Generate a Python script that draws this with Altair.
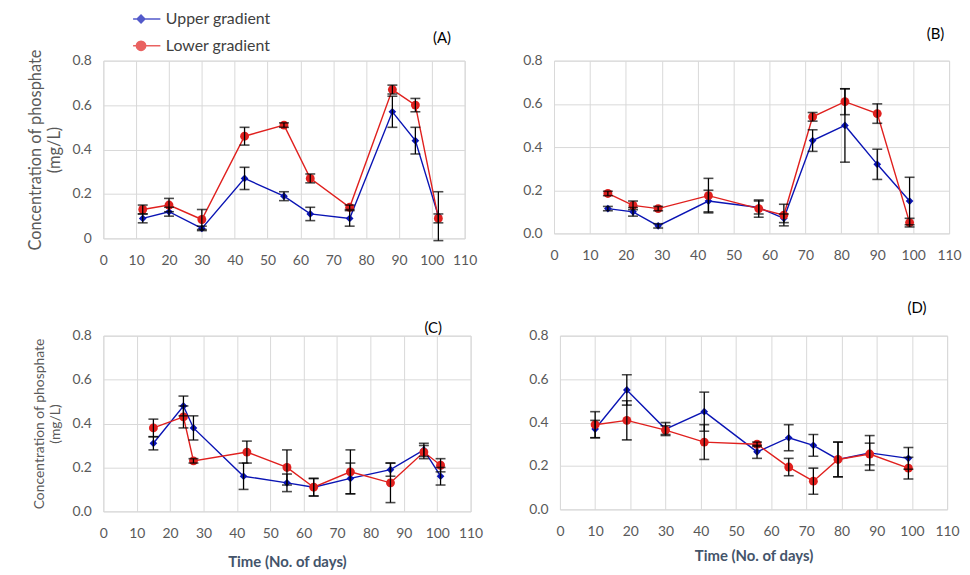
import altair as alt
import pandas as pd

SERIES = ["Upper gradient", "Lower gradient"]
COLORS = ["#0A14B4", "#E0201E"]

# Panel A
a_days_up = [12, 20, 30, 43, 55, 63, 75, 88, 95, 102]
a_upper = [0.09, 0.12, 0.045, 0.27, 0.19, 0.11, 0.09, 0.57, 0.44, 0.10]
a_upper_err = [0.02, 0.02, 0.01, 0.05, 0.02, 0.03, 0.035, 0.07, 0.06, 0.11]
a_days_lo = [12, 20, 30, 43, 55, 63, 75, 88, 95, 102]
a_lower = [0.13, 0.15, 0.085, 0.46, 0.51, 0.27, 0.14, 0.67, 0.60, 0.09]
a_lower_err = [0.02, 0.03, 0.045, 0.04, 0.01, 0.02, 0.01, 0.02, 0.03, 0.02]

# Panel B
b_days_up = [15, 22, 29, 43, 57, 64, 72, 81, 90, 99]
b_upper = [0.115, 0.10, 0.035, 0.15, 0.12, 0.07, 0.43, 0.50, 0.32, 0.15]
b_upper_err = [0.01, 0.02, 0.01, 0.05, 0.03, 0.02, 0.05, 0.17, 0.07, 0.11]
b_days_lo = [15, 22, 29, 43, 57, 64, 72, 81, 90, 99]
b_lower = [0.185, 0.13, 0.115, 0.175, 0.115, 0.085, 0.54, 0.61, 0.555, 0.05]
b_lower_err = [0.01, 0.02, 0.01, 0.08, 0.04, 0.05, 0.02, 0.06, 0.045, 0.02]

# Panel C
c_days_up = [15, 24, 27, 42, 55, 63, 74, 86, 96, 101]
c_upper = [0.31, 0.48, 0.38, 0.16, 0.13, 0.11, 0.15, 0.19, 0.28, 0.16]
c_upper_err = [0.03, 0.045, 0.055, 0.06, 0.04, 0.04, 0.07, 0.03, 0.03, 0.04]
c_days_lo = [15, 24, 27, 43, 55, 63, 74, 86, 96, 101]
c_lower = [0.38, 0.43, 0.23, 0.27, 0.20, 0.11, 0.18, 0.13, 0.27, 0.21]
c_lower_err = [0.04, 0.05, 0.01, 0.05, 0.08, 0.04, 0.10, 0.09, 0.03, 0.03]

# Panel D
d_days_up = [10, 19, 30, 41, 56, 65, 72, 79, 88, 99]
d_upper = [0.37, 0.55, 0.37, 0.45, 0.265, 0.33, 0.295, 0.23, 0.26, 0.235]
d_upper_err = [0.04, 0.07, 0.03, 0.09, 0.03, 0.06, 0.05, 0.08, 0.08, 0.05]
d_days_lo = [10, 19, 30, 41, 56, 65, 72, 79, 88, 99]
d_lower = [0.39, 0.41, 0.365, 0.31, 0.30, 0.195, 0.13, 0.23, 0.255, 0.19]
d_lower_err = [0.06, 0.09, 0.02, 0.08, 0.01, 0.04, 0.06, 0.08, 0.05, 0.05]

FONT = "Lato"
X_TICKS = list(range(0, 111, 10))
Y_TICKS = [0, 0.2, 0.4, 0.6, 0.8]
Y_TITLE = ["Concentration of phosphate", "(mg/L)"]
X_TITLE = "Time (No. of days)"


def frame(days_up, up, up_err, days_lo, lo, lo_err):
    rows = []
    for d, v, e in zip(days_up, up, up_err):
        rows.append({"day": d, "value": v, "lo": v - e, "hi": v + e, "series": SERIES[0]})
    for d, v, e in zip(days_lo, lo, lo_err):
        rows.append({"day": d, "value": v, "lo": v - e, "hi": v + e, "series": SERIES[1]})
    return pd.DataFrame(rows)


LEG = dict(title=None, orient="none", legendX=30, legendY=-51, padding=0,
           labelFontSize=16, labelColor="#404040", labelFont=FONT, symbolSize=100,
           symbolStrokeWidth=1.4, rowPadding=9, labelOffset=17, clipHeight=18)


def panel(df, label, width, height, yfmt, ytitle, ytitle_size, xtitle, title_dx, title_off, xtitle_pad=10):
    x_axis = alt.Axis(values=X_TICKS, title=xtitle, titleFontWeight="bold",
                      titleColor="#44546A", titleFontSize=15, titlePadding=xtitle_pad, labelPadding=15)
    y_axis = alt.Axis(values=Y_TICKS, format=yfmt, title=ytitle,
                      titleFontSize=ytitle_size, titleColor="#595959",
                      titleFontWeight="normal", titlePadding=10, labelPadding=12)
    x = alt.X("day:Q", scale=alt.Scale(domain=[0, 110], nice=False), axis=x_axis)
    y = alt.Y("value:Q", scale=alt.Scale(domain=[0, 0.8], nice=False), axis=y_axis)
    base = alt.Chart(df)
    layers = []
    for s, col, shape, size in [(SERIES[0], COLORS[0], "diamond", 60), (SERIES[1], COLORS[1], "circle", 80)]:
        sub = base.transform_filter(alt.datum.series == s)
        layers.append(sub.mark_line(strokeWidth=1.4, color=col).encode(x=x, y=y))
        layers.append(sub.mark_point(filled=True, shape=shape, size=size, opacity=1, color=col).encode(x=x, y=y))
    layers.append(base.mark_rule(color="black", strokeWidth=1.3).encode(
        x=x, y=alt.Y("lo:Q"), y2="hi:Q"))
    layers.append(base.mark_tick(color="black", thickness=1.6, size=10, orient="horizontal").encode(
        x=x, y=alt.Y("lo:Q")))
    layers.append(base.mark_tick(color="black", thickness=1.6, size=10, orient="horizontal").encode(
        x=x, y=alt.Y("hi:Q")))
    if label == "(A)":
        up_path = "M-5.6,0H3.9M0,-0.8L0.8,0L0,0.8L-0.8,0Z"
        lo_path = "M-5.6,0H3.9M0.95,0A0.95,0.95 0 1,1 -0.95,0A0.95,0.95 0 1,1 0.95,0Z"
        layers.append(base.transform_filter("datum.day < 0").mark_point(
            filled=True, strokeWidth=1.4).encode(
            x=x, y=y,
            color=alt.Color("series:N", scale=alt.Scale(domain=SERIES, range=COLORS),
                            legend=alt.Legend(**LEG)),
            shape=alt.Shape("series:N", scale=alt.Scale(domain=SERIES, range=[up_path, lo_path]),
                            legend=alt.Legend(**LEG)),
            stroke=alt.Stroke("series:N", scale=alt.Scale(domain=SERIES, range=COLORS),
                              legend=alt.Legend(**LEG)),
        ))
    return alt.layer(*layers).properties(
        width=width, height=height,
        title=alt.TitleParams(label, anchor="end", fontSize=15, font=FONT, color="#000000",
                              fontWeight="normal", dx=-title_dx, offset=title_off))


dfA = frame(a_days_up, a_upper, a_upper_err, a_days_lo, a_lower, a_lower_err)
dfB = frame(b_days_up, b_upper, b_upper_err, b_days_lo, b_lower, b_lower_err)
dfC = frame(c_days_up, c_upper, c_upper_err, c_days_lo, c_lower, c_lower_err)
dfD = frame(d_days_up, d_upper, d_upper_err, d_days_lo, d_lower, d_lower_err)

pA = panel(dfA, "(A)", 364, 179, ".1~f", Y_TITLE, 16.5, None, 26, 3)
pB = panel(dfB, "(B)", 398, 174, ".1f", None, 12, None, 17, 12)
pC = panel(dfC, "(C)", 370, 177, ".1f", Y_TITLE, 14, X_TITLE, 41, -7, xtitle_pad=15)
pD = panel(dfD, "(D)", 390, 175, ".1f", None, 12, X_TITLE, 33, 13)

row1 = alt.hconcat(pA, pB, spacing=44)
row2 = alt.hconcat(pC, pD, spacing=44)
chart = alt.vconcat(row1, row2, spacing=32).properties(
    background="white", padding={"top": 0, "left": 19, "right": 0, "bottom": 0}
).configure_view(
    stroke="#D9D9D9", strokeWidth=1
).configure_axis(
    grid=True, gridColor="#D9D9D9", gridWidth=1, domain=False, ticks=False,
    labelColor="#595959", labelFontSize=14, labelFont=FONT, titleFont=FONT,
    labelOverlap=False, labelFlush=False
)

chart.save("out.html", embed_options={"renderer": "svg", "actions": False})
